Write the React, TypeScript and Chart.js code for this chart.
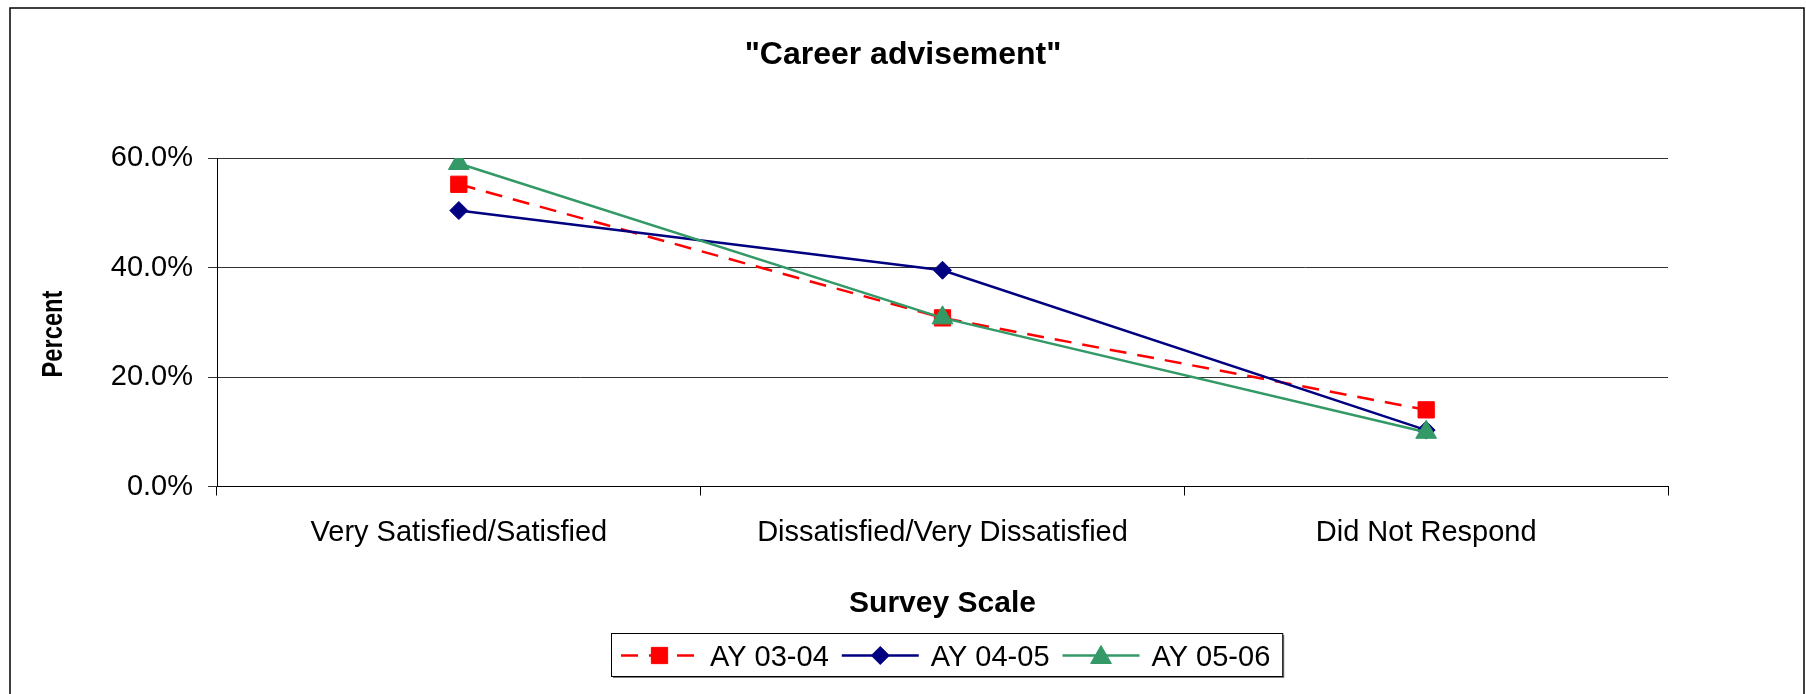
import React, { useEffect, useRef } from "react";
import { Chart, registerables } from "chart.js";

Chart.register(...registerables);

const chartTitle = '"Career advisement"';
const xAxisTitle = "Survey Scale";
const yAxisTitle = "Percent";
const categories = ["Very Satisfied/Satisfied", "Dissatisfied/Very Dissatisfied", "Did Not Respond"];
const seriesLabels = ["AY 03-04", "AY 04-05", "AY 05-06"];
const ay0304 = [55.2, 30.8, 14.0];
const ay0405 = [50.4, 39.5, 10.3];
const ay0506 = [59.0, 30.8, 9.9];
const yTicks = [0, 20, 40, 60];

const FONT = '"Liberation Sans", Arial, sans-serif';

function drawMarker(ctx: CanvasRenderingContext2D, style: string, x: number, y: number, r: number, color: string) {
  ctx.save();
  ctx.fillStyle = color;
  ctx.strokeStyle = color;
  ctx.lineWidth = 1;
  ctx.setLineDash([]);
  ctx.beginPath();
  if (style === "rect") {
    const s = Math.SQRT1_2 * r;
    ctx.rect(x - s, y - s, 2 * s, 2 * s);
  } else if (style === "rectRot") {
    ctx.moveTo(x, y - r);
    ctx.lineTo(x + r, y);
    ctx.lineTo(x, y + r);
    ctx.lineTo(x - r, y);
    ctx.closePath();
  } else {
    const a = (2 * Math.PI) / 3;
    ctx.moveTo(x, y - r);
    ctx.lineTo(x + Math.sin(a) * r, y - Math.cos(a) * r);
    ctx.lineTo(x + Math.sin(2 * a) * r, y - Math.cos(2 * a) * r);
    ctx.closePath();
  }
  ctx.fill();
  ctx.stroke();
  ctx.restore();
}

const decorPlugin = {
  id: "decor",
  beforeDraw(chart: any) {
    const ctx = chart.ctx;
    ctx.save();
    ctx.fillStyle = "#fff";
    ctx.fillRect(0, 0, chart.width, chart.height);
    ctx.strokeStyle = "#000";
    ctx.lineWidth = 1.5;
    ctx.strokeRect(10, 8, 1794, 720);
    ctx.restore();
  },
  afterDraw(chart: any) {
    const ctx = chart.ctx;
    ctx.save();
    // title
    ctx.fillStyle = "#000";
    ctx.font = `bold 32px ${FONT}`;
    ctx.textAlign = "center";
    ctx.textBaseline = "middle";
    ctx.fillText(chartTitle, 903, 55);

    // y-axis title (rotated)
    ctx.save();
    ctx.translate(54, 334);
    ctx.rotate(-Math.PI / 2);
    ctx.font = `bold 30px ${FONT}`;
    const tw = ctx.measureText(yAxisTitle).width;
    ctx.scale(87 / tw, 1);
    ctx.textAlign = "center";
    ctx.textBaseline = "middle";
    ctx.fillText(yAxisTitle, 0, 0);
    ctx.restore();

    // legend
    ctx.font = `29px ${FONT}`;
    const ds = chart.data.datasets;
    const L = 77, gapText = 12, gapItem = 13, padL = 10, padR = 12;
    const widths = ds.map((d: any) => ctx.measureText(d.label).width);
    let total = padL + padR + gapItem * (ds.length - 1);
    widths.forEach((w: number) => (total += L + gapText + w));
    const cx = 946.5;
    const left = Math.round(cx - total / 2);
    const top = 633, h = 43;
    ctx.fillStyle = "#808080";
    ctx.fillRect(left + 2, top + 2, total, h);
    ctx.fillStyle = "#fff";
    ctx.fillRect(left, top, total, h);
    ctx.strokeStyle = "#000";
    ctx.lineWidth = 1;
    ctx.strokeRect(left + 0.5, top + 0.5, total, h);
    const cy = top + h / 2 + 1;
    let x = left + padL;
    ds.forEach((d: any, i: number) => {
      ctx.save();
      ctx.strokeStyle = d.borderColor;
      ctx.lineWidth = d.borderWidth;
      ctx.setLineDash(d.borderDash || []);
      ctx.beginPath();
      ctx.moveTo(x, cy);
      ctx.lineTo(x + L, cy);
      ctx.stroke();
      ctx.restore();
      drawMarker(ctx, d.pointStyle, x + L / 2, cy + (d.pointStyle === "triangle" ? 2 : 0), d.pointRadius, d.borderColor);
      ctx.fillStyle = "#000";
      ctx.textAlign = "left";
      ctx.textBaseline = "middle";
      ctx.fillText(d.label, x + L + gapText, cy + 2);
      x += L + gapText + widths[i] + gapItem;
    });
    ctx.restore();
  },
};

export default function App() {
  const ref = useRef<HTMLCanvasElement>(null);
  useEffect(() => {
    if (!ref.current) return;
    Chart.defaults.font.family = FONT;
    Chart.defaults.color = "#000";
    const chart = new Chart(ref.current, {
      type: "line",
      data: {
        labels: categories,
        datasets: [
          {
            label: seriesLabels[0],
            data: ay0304,
            order: 3,
            borderColor: "#FF0000",
            backgroundColor: "#FF0000",
            borderWidth: 2.5,
            borderDash: [17, 11],
            pointStyle: "rect",
            pointRadius: 11.5,
            pointBorderWidth: 1,
            pointBackgroundColor: "#FF0000",
            pointBorderColor: "#FF0000",
            tension: 0,
          },
          {
            label: seriesLabels[1],
            data: ay0405,
            order: 2,
            borderColor: "#000080",
            backgroundColor: "#000080",
            borderWidth: 2.5,
            pointStyle: "rectRot",
            pointRadius: 9,
            pointBorderWidth: 1,
            pointBackgroundColor: "#000080",
            pointBorderColor: "#000080",
            tension: 0,
          },
          {
            label: seriesLabels[2],
            data: ay0506,
            order: 1,
            borderColor: "#339966",
            backgroundColor: "#339966",
            borderWidth: 2.5,
            pointStyle: "triangle",
            pointRadius: 12,
            pointBorderWidth: 1,
            pointBackgroundColor: "#339966",
            pointBorderColor: "#339966",
            tension: 0,
          },
        ],
      },
      options: {
        animation: false,
        responsive: true,
        maintainAspectRatio: false,
        events: [],
        layout: { padding: { left: 12, right: 138, top: 158, bottom: 64 } },
        plugins: {
          legend: { display: false },
          title: { display: false },
          tooltip: { enabled: false },
        },
        scales: {
          x: {
            type: "category",
            offset: true,
            grid: { display: true, offset: true, drawOnChartArea: false, drawTicks: true, tickLength: 9, color: "#000" },
            border: { display: true, color: "#000", width: 1 },
            ticks: { font: { size: 29 }, color: "#000", padding: 20, maxRotation: 0, autoSkip: false },
            title: { display: true, text: xAxisTitle, font: { size: 30, weight: "bold" }, color: "#000", padding: { top: 0, bottom: 8 } },
            afterFit: (s: any) => { s.height = 143.5; },
          },
          y: {
            min: 0,
            max: 60,
            afterBuildTicks: (s: any) => { s.ticks = yTicks.map((v) => ({ value: v })); },
            grid: { color: "#333", lineWidth: 1, tickLength: 9, drawTicks: true },
            border: { display: true, color: "#000", width: 1 },
            ticks: { font: { size: 29 }, color: "#000", padding: 15, callback: (v: any) => Number(v).toFixed(1) + "%" },
            title: { display: false },
            afterFit: (s: any) => { s.width = 205; },
          },
        },
      },
      plugins: [decorPlugin],
    });
    return () => chart.destroy();
  }, []);
  return (
    <div style={{ position: "absolute", left: 0, top: 0, width: 1806, height: 694, background: "#fff" }}>
      <canvas ref={ref} />
    </div>
  );
}
